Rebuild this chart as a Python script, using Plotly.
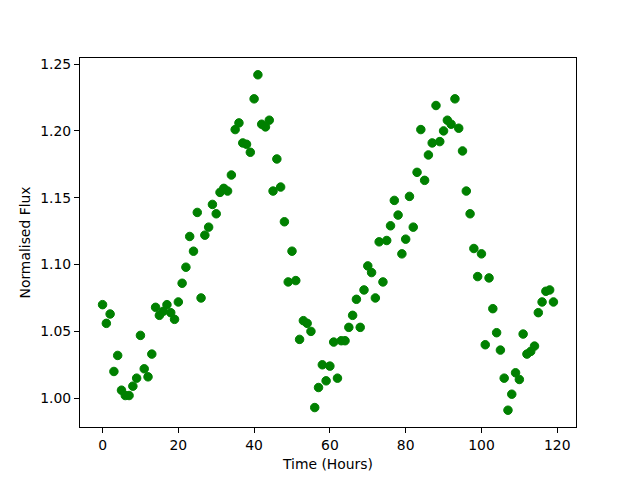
import plotly.graph_objects as go

time_hours = list(range(120))
flux = [
    1.070, 1.056, 1.063, 1.020, 1.032, 1.006, 1.002, 1.002, 1.009, 1.015,
    1.047, 1.022, 1.016, 1.033, 1.068, 1.062, 1.065, 1.070, 1.064, 1.059,
    1.072, 1.086, 1.098, 1.121, 1.110, 1.139, 1.075, 1.122, 1.128, 1.145,
    1.138, 1.154, 1.157, 1.155, 1.167, 1.201, 1.206, 1.191, 1.190, 1.184,
    1.224, 1.242, 1.205, 1.203, 1.208, 1.155, 1.179, 1.158, 1.132, 1.087,
    1.110, 1.088, 1.044, 1.058, 1.056, 1.050, 0.993, 1.008, 1.025, 1.013,
    1.024, 1.042, 1.015, 1.043, 1.043, 1.053, 1.062, 1.074, 1.053, 1.081,
    1.099, 1.094, 1.075, 1.117, 1.087, 1.118, 1.129, 1.148, 1.137, 1.108,
    1.119, 1.151, 1.128, 1.169, 1.201, 1.163, 1.182, 1.191, 1.219, 1.192,
    1.200, 1.208, 1.205, 1.224, 1.202, 1.185, 1.155, 1.138, 1.112, 1.091,
    1.108, 1.040, 1.090, 1.067, 1.049, 1.036, 1.015, 0.991, 1.003, 1.019,
    1.014, 1.048, 1.033, 1.035, 1.039, 1.064, 1.072, 1.080, 1.081, 1.072,
]
x_ticks = [0, 20, 40, 60, 80, 100, 120]
y_ticks = [1.00, 1.05, 1.10, 1.15, 1.20, 1.25]

def padded(vals, frac=0.05):
    lo, hi = min(vals), max(vals)
    m = (hi - lo) * frac
    return [lo - m, hi + m]

font = dict(family="DejaVu Sans", size=13.9, color="black")

fig = go.Figure(go.Scatter(
    x=time_hours, y=flux, mode="markers",
    marker=dict(color="#008000", size=8.5, line=dict(color="#008000", width=1)),
))

axis_common = dict(
    showline=True, linecolor="black", linewidth=1.1, mirror=True,
    ticks="outside", ticklen=5, tickwidth=1.1, tickcolor="black",
    showgrid=False, zeroline=False, tickfont=font, automargin=False,
)
# page body has an 8px margin, so the figure is offset by 8px
fig.update_layout(
    width=632, height=472,
    margin=dict(l=72, r=64, t=50, b=53),
    paper_bgcolor="white", plot_bgcolor="white",
    showlegend=False, font=font,
    xaxis=dict(range=padded(time_hours), tickvals=x_ticks,
               title=dict(text="Time (Hours)", font=font, standoff=7), **axis_common),
    yaxis=dict(range=padded(flux), tickvals=y_ticks, tickformat=".2f",
               title=dict(text="Normalised Flux", font=font, standoff=6), **axis_common),
)
fig.write_html("out.html")
